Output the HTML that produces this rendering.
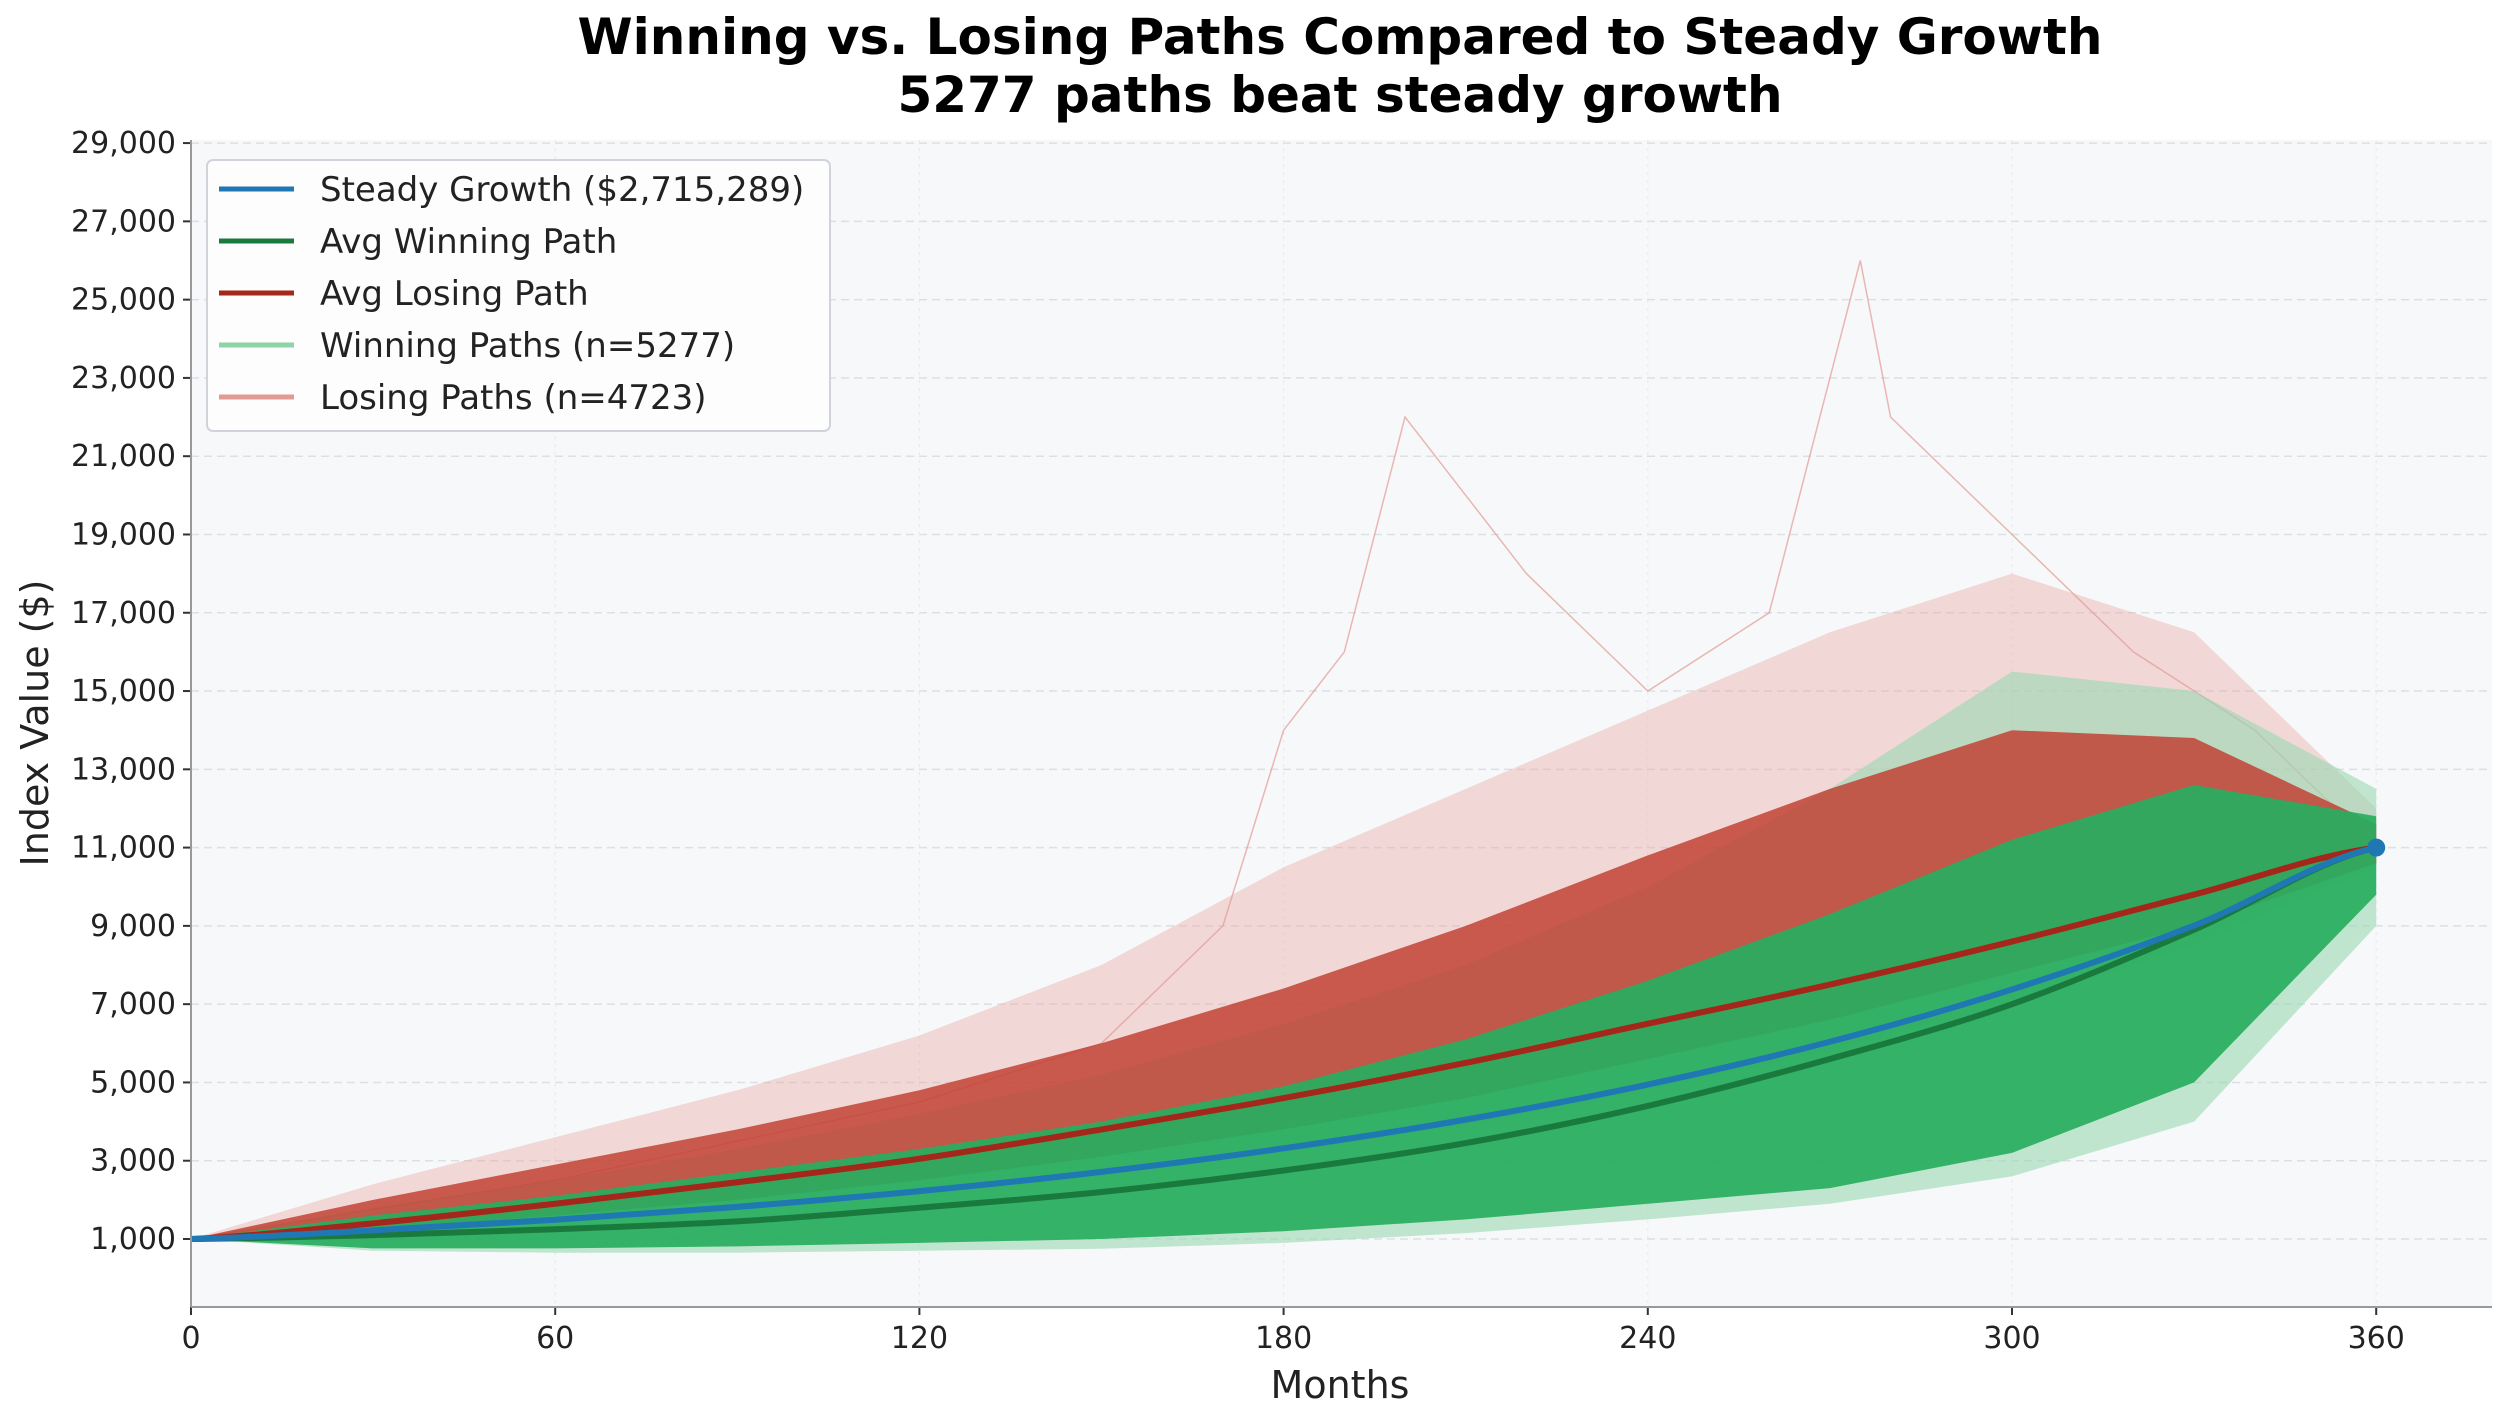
<!DOCTYPE html>
<html><head><meta charset="utf-8"><style>
html,body{margin:0;padding:0;background:#fff;}
svg{display:block;font-family:"DejaVu Sans","Liberation Sans",sans-serif;}
</style></head><body>
<svg id="chart" width="2500" height="1421" viewBox="0 0 2500 1421" xmlns="http://www.w3.org/2000/svg">
<text x="1340" y="54" text-anchor="middle" font-size="50" font-weight="bold" fill="#000">Winning vs. Losing Paths Compared to Steady Growth</text>
<text x="1340" y="112" text-anchor="middle" font-size="50" font-weight="bold" fill="#000">5277 paths beat steady growth</text>
<rect x="191" y="140" width="2301" height="1167" fill="#f7f8fa"/>
<g id="grid"></g>
<g id="marks"></g>
<g id="axes"></g>
<text x="1340" y="1398" text-anchor="middle" font-size="38" fill="#222">Months</text>
<text transform="translate(48,723) rotate(-90)" text-anchor="middle" font-size="38" fill="#222">Index Value ($)</text>
<g>
<rect x="207" y="160" width="623" height="271" rx="6" fill="#fdfdfd" stroke="#d0d4da" stroke-width="2"/>
<line x1="219" y1="189" x2="294" y2="189" stroke="#1f77b4" stroke-width="5"/>
<text x="320" y="201" font-size="34" fill="#222">Steady Growth ($2,715,289)</text>
<line x1="219" y1="241" x2="294" y2="241" stroke="#1a7a3e" stroke-width="5"/>
<text x="320" y="253" font-size="34" fill="#222">Avg Winning Path</text>
<line x1="219" y1="293" x2="294" y2="293" stroke="#a5261a" stroke-width="5"/>
<text x="320" y="305" font-size="34" fill="#222">Avg Losing Path</text>
<line x1="219" y1="345" x2="294" y2="345" stroke="#8fd3a8" stroke-width="5"/>
<text x="320" y="357" font-size="34" fill="#222">Winning Paths (n=5277)</text>
<line x1="219" y1="397" x2="294" y2="397" stroke="#e29a94" stroke-width="5"/>
<text x="320" y="409" font-size="34" fill="#222">Losing Paths (n=4723)</text>
</g>
</svg>
<script>
const months = [0,30,60,90,120,150,180,210,240,270,300,330,360];
const steadyGrowth = [1000,1221,1492,1821,2224,2716,3317,4050,4946,6040,7376,9007,11000];
const avgWinning = [1000,1100,1250,1450,1800,2200,2750,3450,4400,5600,7000,8900,11000];
const avgLosing = [1000,1400,1900,2450,3050,3800,4600,5500,6500,7500,8600,9800,11000];
const winDenseLow = [1000,760,760,810,900,1000,1200,1500,1900,2300,3200,5000,9800];
const winDenseHigh = [1000,1600,2100,2700,3300,4000,4900,6100,7600,9300,11200,12600,11800];
const winOuterLow = [1000,700,650,650,700,750,900,1150,1500,1900,2600,4000,9000];
const winOuterHigh = [1000,1800,2500,3300,4200,5200,6500,8000,10000,12500,15500,15000,12500];
const loseDenseLow = [1000,1250,1600,2000,2500,3100,3800,4600,5600,6600,7800,9000,10600];
const loseDenseHigh = [1000,2000,2900,3800,4800,6000,7400,9000,10800,12500,14000,13800,11600];
const loseOuterLow = [1000,1150,1400,1700,2100,2600,3200,3900,4800,5800,7000,8500,10500];
const loseOuterHigh = [1000,2400,3600,4800,6200,8000,10500,12500,14500,16500,18000,16500,12000];
const outlierMonths = [0,60,120,150,170,180,190,200,210,220,240,260,275,280,300,320,340,360];
const outlierValues = [1000,2500,4500,6000,9000,14000,16000,22000,20000,18000,15000,17000,26000,22000,19000,16000,14000,11000];
const yTicks = [1000,3000,5000,7000,9000,11000,13000,15000,17000,19000,21000,23000,25000,27000,29000];
const xTicks = [0,60,120,180,240,300,360];

const NS='http://www.w3.org/2000/svg';
const X = m => 191 + m*6.07;
const Y = v => 1239 - (v-1000)*0.03914;
function mk(tag, attrs, parent){const e=document.createElementNS(NS,tag);for(const k in attrs)e.setAttribute(k,attrs[k]);parent.appendChild(e);return e;}
const grid=document.getElementById('grid'), marks=document.getElementById('marks'), axes=document.getElementById('axes');

yTicks.forEach(v=>{
  const g=mk('line',{x1:191,x2:2492,y1:Y(v),y2:Y(v),stroke:'#dcdfe3','stroke-width':1.5,'stroke-dasharray':'8,5'},grid);
  
  
  const t=mk('line',{x1:183,x2:191,y1:Y(v),y2:Y(v),stroke:'#333','stroke-width':2},axes);
  
  
  const l=mk('text',{x:176,y:Y(v)+10,'text-anchor':'end','font-size':30,fill:'#222'},axes);
  l.textContent=v.toLocaleString('en-US');
  
  
});
xTicks.forEach(m=>{
  const g=mk('line',{x1:X(m),x2:X(m),y1:140,y2:1307,stroke:'#e6e8eb','stroke-width':1,'stroke-dasharray':'3,5'},grid);
  
  
  const t=mk('line',{x1:X(m),x2:X(m),y1:1307,y2:1315,stroke:'#333','stroke-width':2},axes);
  
  
  const l=mk('text',{x:X(m),y:1348,'text-anchor':'middle','font-size':30,fill:'#222'},axes);
  l.textContent=String(m);
  
  
});
const sl=mk('line',{x1:191,x2:191,y1:140,y2:1307,stroke:'#999','stroke-width':2},axes);


const sb=mk('line',{x1:191,x2:2492,y1:1307,y2:1307,stroke:'#999','stroke-width':2},axes);



function linePts(ms, vs){return ms.map((m,i)=>X(m).toFixed(1)+','+Y(vs[i]).toFixed(1)).join(' ');}
function bandPts(lo, hi){
  const a=months.map((m,i)=>X(m).toFixed(1)+','+Y(hi[i]).toFixed(1));
  const b=months.map((m,i)=>X(m).toFixed(1)+','+Y(lo[i]).toFixed(1)).reverse();
  return a.concat(b).join(' ');
}
const b1=mk('polygon',{points:bandPts(loseOuterLow,loseOuterHigh),fill:'#e8a8a2','fill-opacity':0.4},marks);


const o1=mk('polyline',{points:linePts(outlierMonths,outlierValues),fill:'none',stroke:'#e29a94','stroke-width':1.5,'stroke-opacity':0.7},marks);


const b2=mk('polygon',{points:bandPts(winOuterLow,winOuterHigh),fill:'#9ad9b2','fill-opacity':0.6},marks);


const b3=mk('polygon',{points:bandPts(loseDenseLow,loseDenseHigh),fill:'#c0392b','fill-opacity':0.8},marks);


const b4=mk('polygon',{points:bandPts(winDenseLow,winDenseHigh),fill:'#27ae60','fill-opacity':0.92},marks);



function smooth(vs){
  let d='M'+X(months[0])+','+Y(vs[0]);
  for(let i=1;i<months.length;i++){
    const x0=X(months[i-1]),y0=Y(vs[i-1]),x1=X(months[i]),y1=Y(vs[i]);
    const p=i>1?Y(vs[i-2]):y0, n=i<months.length-1?Y(vs[i+1]):y1;
    const dx=(x1-x0)/3;
    d+=` C${x0+dx},${y0+(y1-p)/6} ${x1-dx},${y1-(n-y0)/6} ${x1},${y1}`;
  }
  return d;
}
const lw=mk('path',{d:smooth(avgWinning),fill:'none',stroke:'#1a7a3e','stroke-width':6},marks);


const ll=mk('path',{d:smooth(avgLosing),fill:'none',stroke:'#a5261a','stroke-width':6},marks);


const ls=mk('path',{d:smooth(steadyGrowth),fill:'none',stroke:'#1f77b4','stroke-width':6},marks);


const dot=mk('circle',{cx:X(months[months.length-1]),cy:Y(steadyGrowth[steadyGrowth.length-1]),r:9,fill:'#1f77b4'},marks);


</script>
</body></html>
